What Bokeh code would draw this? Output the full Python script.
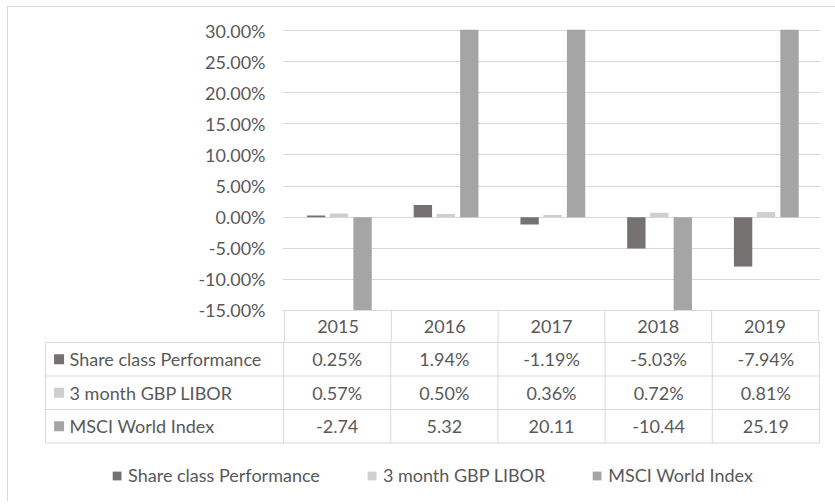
from bokeh.plotting import figure
from bokeh.layouts import column
from bokeh.models import (FactorRange, Range1d, FixedTicker, NumeralTickFormatter,
                          Legend, LegendItem, ColumnDataSource)
from bokeh.transform import dodge
from bokeh.core.properties import value
from bokeh.embed import file_html
from bokeh.resources import INLINE

# ---------------- data ----------------
years = ["2015", "2016", "2017", "2018", "2019"]
series_names = ["Share class Performance", "3 month GBP LIBOR", "MSCI World Index"]
share_class = [0.0025, 0.0194, -0.0119, -0.0503, -0.0794]
libor_3m = [0.0057, 0.0050, 0.0036, 0.0072, 0.0081]
msci_world = [-2.74, 5.32, 20.11, -10.44, 25.19]
y_ticks = [-0.15, -0.10, -0.05, 0.0, 0.05, 0.10, 0.15, 0.20, 0.25, 0.30]

# ---------------- style / layout ----------------
colors = ["#767171", "#d0cece", "#a5a5a5"]
FONT = "Lato"
FS = "18px"
TEXT = "#595959"
GRID = "#d9d9d9"

W = 827
TOP_H = 334
TOP_BORDER = 22
TAB_H = 160
PX_Y = 622.2            # px per 1.0 (100%) on value axis
Y_MIN, Y_MAX = -0.15, 0.30
y_end = Y_MAX + 1 / PX_Y
y_start = y_end - (TOP_H - TOP_BORDER) / PX_Y
HDR_H = 32 / PX_Y       # header row height in value units
CAT_PX = 107.17
LABEL_W = 238 / CAT_PX  # label column width in category units
ROW_PX = 33.5

# ---------------- top figure: bars + header row ----------------
p = figure(x_range=FactorRange(*years, range_padding=0.02, range_padding_units="absolute"),
           y_range=Range1d(y_start, y_end),
           width=W, height=TOP_H, min_border_left=274, min_border_right=15,
           min_border_top=TOP_BORDER, min_border_bottom=0, frame_align=False,
           x_axis_location=None, output_backend="svg", toolbar_location=None,
           outline_line_color=None)

src = ColumnDataSource(dict(year=years, share=share_class, libor=libor_3m, msci=msci_world))
offsets = [-0.205, 0.01, 0.23]
for col, off, c in zip(["share", "libor", "msci"], offsets, colors):
    p.vbar(x=dodge("year", off, range=p.x_range), top=col, bottom=0, width=0.172,
           source=src, fill_color=c, line_color=None)

# hide the part of clipped bars below the axis minimum (header row area)
p.quad(left=0, right=len(years), bottom=y_start - 1, top=Y_MIN,
       fill_color="white", line_color=None)
bounds = list(range(len(years) + 1))
p.segment(x0=[0], x1=[len(years)], y0=[Y_MIN], y1=[Y_MIN], line_color=GRID, line_width=1)
p.segment(x0=bounds, x1=bounds, y0=[Y_MIN] * len(bounds), y1=[y_start - 0.01] * len(bounds),
          line_color=GRID, line_width=1)
p.text(x=years, y=[Y_MIN - HDR_H / 2] * len(years), text=years,
       text_align="center", text_baseline="middle",
       text_font=value(FONT), text_font_size=FS, text_color=TEXT)

p.yaxis.ticker = FixedTicker(ticks=y_ticks)
p.yaxis.formatter = NumeralTickFormatter(format="0.00%")
p.yaxis.axis_line_color = None
p.yaxis.major_tick_line_color = None
p.yaxis.minor_tick_line_color = None
p.yaxis.major_tick_out = 0
p.yaxis.major_tick_in = 0
p.yaxis.major_label_standoff = 17
p.yaxis.major_label_text_font = FONT
p.yaxis.major_label_text_font_size = FS
p.yaxis.major_label_text_color = TEXT
p.ygrid.grid_line_color = GRID
p.xgrid.grid_line_color = None

# ---------------- table figure ----------------
p2 = figure(x_range=Range1d(-LABEL_W - 0.01, len(years) + 0.01),
            y_range=Range1d((TAB_H - 1) / ROW_PX, -1 / ROW_PX),
            width=W, height=TAB_H, min_border_left=36, min_border_right=15,
            min_border_top=0, min_border_bottom=0, frame_align=False,
            x_axis_location=None, y_axis_location=None,
            output_backend="svg", toolbar_location=None, outline_line_color=None)
p2.xgrid.grid_line_color = None
p2.ygrid.grid_line_color = None

n_rows = len(series_names)
rows = list(range(n_rows + 1))
p2.segment(x0=[-LABEL_W] * len(rows), x1=[len(years)] * len(rows), y0=rows, y1=rows,
           line_color=GRID, line_width=1)
p2.segment(x0=[-LABEL_W], x1=[-LABEL_W], y0=[0], y1=[n_rows], line_color=GRID, line_width=1)
p2.segment(x0=bounds, x1=bounds, y0=[-1] * len(bounds), y1=[n_rows] * len(bounds),
           line_color=GRID, line_width=1)
row_mid = [r + 0.5 for r in range(n_rows)]
sq_src = ColumnDataSource(dict(x=[-LABEL_W + 13.5 / CAT_PX] * n_rows, y=row_mid,
                               color=colors, name=series_names))
squares = p2.rect(x="x", y="y", width=10, height=10, width_units="screen",
                  height_units="screen", fill_color="color", line_color=None, source=sq_src)
p2.text(x=[-LABEL_W + 24 / CAT_PX] * n_rows, y=row_mid, text=series_names,
        text_align="left", text_baseline="middle",
        text_font=value(FONT), text_font_size=FS, text_color=TEXT)

fmt_rows = [[f"{v * 100:.2f}%" for v in share_class],
            [f"{v * 100:.2f}%" for v in libor_3m],
            [f"{v:.2f}" for v in msci_world]]
tx, ty, tt = [], [], []
for r, labels in enumerate(fmt_rows):
    for i, t in enumerate(labels):
        tx.append(i + 0.5)
        ty.append(r + 0.5)
        tt.append(t)
p2.text(x=tx, y=ty, text=tt, text_align="center", text_baseline="middle",
        text_font=value(FONT), text_font_size=FS, text_color=TEXT)

# legend: one item per series, coloured via the row-label squares
items = [LegendItem(label=name, renderers=[squares], index=i)
         for i, name in enumerate(series_names)]
legend = Legend(items=items, orientation="horizontal", location="bottom_center",
                spacing=46, glyph_width=11, glyph_height=11, label_standoff=6,
                padding=0, margin=15, border_line_color=None, background_fill_alpha=0,
                label_text_font=FONT, label_text_font_size=FS, label_text_color=TEXT,
                label_height=20)
p2.add_layout(legend)

layout = column(p, p2, spacing=0,
                styles={"margin-left": "7px", "margin-top": "6px",
                        "border-left": "1px solid #d9d9d9", "border-top": "1px solid #d9d9d9"})

open("out.html", "w").write(file_html(layout, INLINE))
